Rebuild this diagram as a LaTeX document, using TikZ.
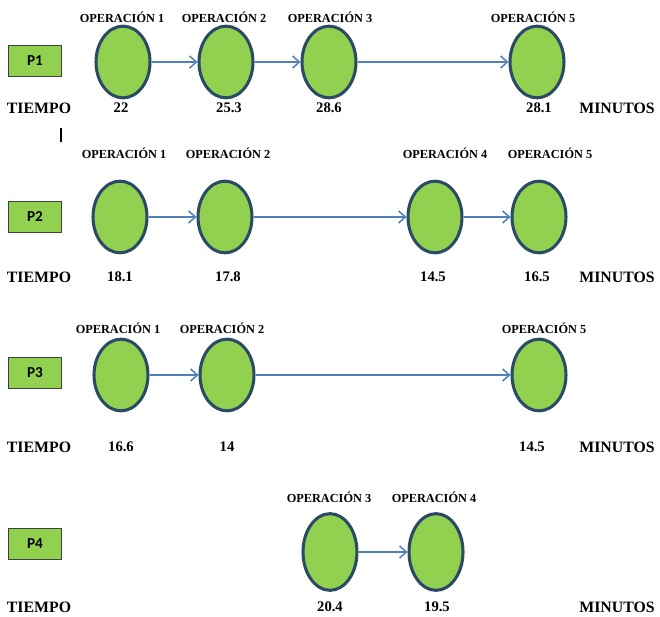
\documentclass[tikz,border=0pt]{standalone}
\usepackage{fontspec}
\setmainfont{Liberation Serif}
\newfontfamily\boxfont{Carlito}
\usetikzlibrary{shapes.geometric,arrows.meta}

\definecolor{leaf}{RGB}{146,208,80}
\definecolor{rim}{RGB}{42,74,102}
\definecolor{wire}{RGB}{79,129,189}

\tikzset{
  op/.style={ellipse,draw=rim,line width=2.6pt,fill=leaf,
    minimum width=1.62cm,minimum height=2.15cm,inner sep=0pt},
  proc/.style={draw=black!75,line width=0.8pt,fill=leaf,
    minimum width=1.58cm,minimum height=0.92cm,inner sep=0pt,
    font=\boxfont\bfseries\fontsize{13}{13}\selectfont},
  oplabel/.style={font=\bfseries\fontsize{10.5}{11}\selectfont},
  val/.style={font=\bfseries\fontsize{12.5}{13}\selectfont},
  unit/.style={font=\bfseries\fontsize{13.5}{14}\selectfont},
  wireline/.style={draw=wire,line width=1.3pt,
    -{Straight Barb[length=2mm,width=3.6mm]}},
}

\begin{document}
\begin{tikzpicture}[x=0.03cm,y=-0.03cm]
\useasboundingbox (0,0) rectangle (660,617);

% P1
\node (p1) at (35,61) [proc] {P1};
\node (a1) at (123,62) [op] {};
\node (a2) at (226,62) [op] {};
\node (a3) at (329,62) [op] {};
\node (a5) at (537,62) [op] {};
\node (la1) at (122,17) [oplabel] {OPERACIÓN 1};
\node (la2) at (224,17) [oplabel] {OPERACIÓN 2};
\node (la3) at (330,17) [oplabel] {OPERACIÓN 3};
\node (la5) at (533,17) [oplabel] {OPERACIÓN 5};
\node (ta) at (39,108) [unit] {TIEMPO};
\node (va1) at (121,108) [val] {22};
\node (va2) at (229,108) [val] {25.3};
\node (va3) at (329,108) [val] {28.6};
\node (va5) at (539,108) [val] {28.1};
\node (ma) at (617,108) [unit] {MINUTOS};
\draw[wireline] (a1) -- (a2);
\draw[wireline] (a2) -- (a3);
\draw[wireline] (a3) -- (a5);

\draw[line width=1.5pt] (61,128) -- (61,142);

% P2
\node (p2) at (35,217) [proc] {P2};
\node (b1) at (120,217) [op] {};
\node (b2) at (225,217) [op] {};
\node (b4) at (435,217) [op] {};
\node (b5) at (539,217) [op] {};
\node (lb1) at (124,153) [oplabel] {OPERACIÓN 1};
\node (lb2) at (228,153) [oplabel] {OPERACIÓN 2};
\node (lb4) at (445,153) [oplabel] {OPERACIÓN 4};
\node (lb5) at (550,153) [oplabel] {OPERACIÓN 5};
\node (tb) at (39,277) [unit] {TIEMPO};
\node (vb1) at (120,277) [val] {18.1};
\node (vb2) at (228,277) [val] {17.8};
\node (vb4) at (433,277) [val] {14.5};
\node (vb5) at (537,277) [val] {16.5};
\node (mb) at (617,277) [unit] {MINUTOS};
\draw[wireline] (b1) -- (b2);
\draw[wireline] (b2) -- (b4);
\draw[wireline] (b4) -- (b5);

% P3
\node (p3) at (35,373) [proc] {P3};
\node (c1) at (121,375) [op] {};
\node (c2) at (227,375) [op] {};
\node (c5) at (539,375) [op] {};
\node (lc1) at (118,328) [oplabel] {OPERACIÓN 1};
\node (lc2) at (222,328) [oplabel] {OPERACIÓN 2};
\node (lc5) at (544,328) [oplabel] {OPERACIÓN 5};
\node (tc) at (39,447) [unit] {TIEMPO};
\node (vc1) at (121,447) [val] {16.6};
\node (vc2) at (227,447) [val] {14};
\node (vc5) at (532,447) [val] {14.5};
\node (mc) at (617,447) [unit] {MINUTOS};
\draw[wireline] (c1) -- (c2);
\draw[wireline] (c2) -- (c5);

% P4
\node (p4) at (35,544) [proc] {P4};
\node (d3) at (330,552) [op, minimum height=2.3cm] {};
\node (d4) at (436,552) [op, minimum height=2.3cm] {};
\node (ld3) at (329,497) [oplabel] {OPERACIÓN 3};
\node (ld4) at (434,497) [oplabel] {OPERACIÓN 4};
\node (td) at (39,607) [unit] {TIEMPO};
\node (vd3) at (330,607) [val] {20.4};
\node (vd4) at (437,607) [val] {19.5};
\node (md) at (617,607) [unit] {MINUTOS};
\draw[wireline] (d3) -- (d4);
\end{tikzpicture}
\end{document}
